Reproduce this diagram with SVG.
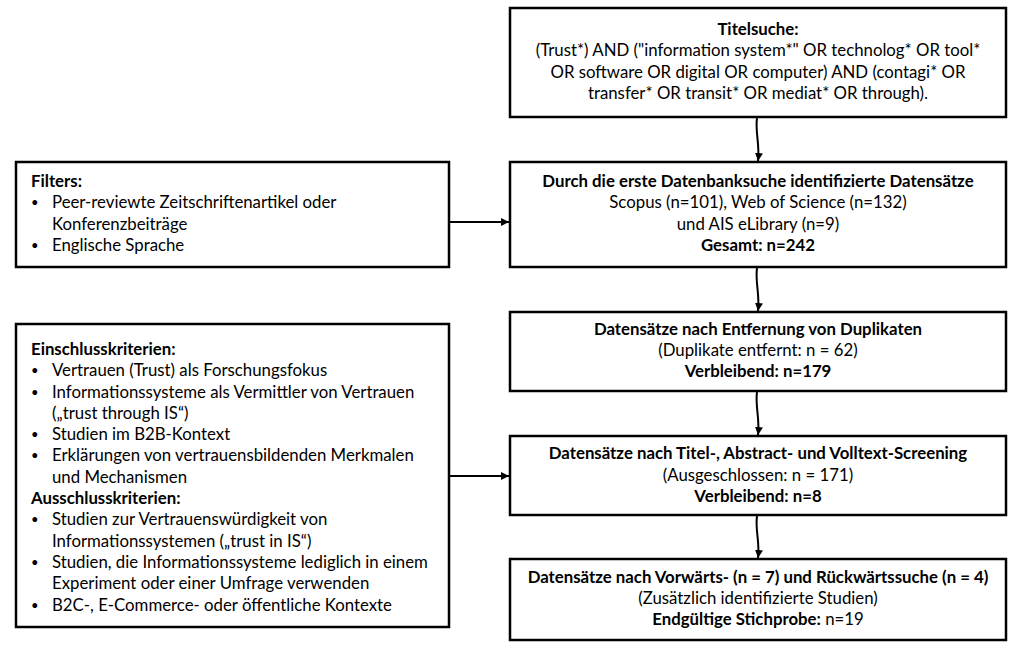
<svg xmlns="http://www.w3.org/2000/svg" width="1024" height="652" viewBox="0 0 1024 652">
<defs>
<marker id="ah" viewBox="0 0 10 10" refX="10" refY="5" markerWidth="4" markerHeight="4" orient="auto" markerUnits="strokeWidth">
<path d="M0,0 L10,5 L0,10 Z" fill="#000"/>
</marker>
<style>
.box{fill:#fff;stroke:#000;stroke-width:2.5}
text{font-family:Lato,"Open Sans","Liberation Sans",sans-serif;font-size:16.8px;fill:#000}
.c{text-anchor:middle}
.b{font-weight:bold}
.dot{font-size:13px}
.con{fill:none;stroke:#000;stroke-width:2}
</style>
</defs>
<rect width="1024" height="652" fill="#fff"/>

<g id="titelsuche">
<rect class="box" x="510" y="8" width="496" height="109"/>
<text class="c b" x="758" y="35">Titelsuche:</text>
<text class="c" x="758" y="56">(Trust*) AND ("information system*" OR technolog* OR tool*</text>
<text class="c" x="758" y="78">OR software OR digital OR computer) AND (contagi* OR</text>
<text class="c" x="758" y="99">transfer* OR transit* OR mediat* OR through).</text>
</g>

<g id="datenbanksuche">
<rect class="box" x="510" y="162" width="496" height="105"/>
<text class="c b" x="758" y="187">Durch die erste Datenbanksuche identifizierte Datensätze</text>
<text class="c" x="758" y="208">Scopus (n=101), Web of Science (n=132)</text>
<text class="c" x="758" y="230">und AIS eLibrary (n=9)</text>
<text class="c b" x="758" y="251">Gesamt: n=242</text>
</g>

<g id="duplikate">
<rect class="box" x="510" y="312" width="496" height="79"/>
<text class="c b" x="758" y="335">Datensätze nach Entfernung von Duplikaten</text>
<text class="c" x="758" y="356">(Duplikate entfernt: n = 62)</text>
<text class="c b" x="758" y="377">Verbleibend: n=179</text>
</g>

<g id="screening">
<rect class="box" x="510" y="436" width="496" height="79"/>
<text class="c b" x="758" y="459">Datensätze nach Titel-, Abstract- und Volltext-Screening</text>
<text class="c" x="758" y="481">(Ausgeschlossen: n = 171)</text>
<text class="c b" x="758" y="502">Verbleibend: n=8</text>
</g>

<g id="stichprobe">
<rect class="box" x="510" y="559" width="496" height="81"/>
<text class="c b" x="758" y="583">Datensätze nach Vorwärts- (n = 7) und Rückwärtssuche (n = 4)</text>
<text class="c" x="758" y="604">(Zusätzlich identifizierte Studien)</text>
<text class="c" x="758" y="625"><tspan class="b">Endgültige Stichprobe:</tspan> n=19</text>
</g>

<g id="filters">
<rect class="box" x="16" y="162" width="433" height="105"/>
<text class="b" x="31" y="187">Filters:</text>
<text class="dot" x="31" y="207">•</text><text x="52" y="208">Peer-reviewte Zeitschriftenartikel oder</text>
<text x="52" y="230">Konferenzbeiträge</text>
<text class="dot" x="31" y="250">•</text><text x="52" y="251">Englische Sprache</text>
</g>

<g id="kriterien">
<rect class="box" x="16" y="324" width="433" height="303"/>
<text class="b" x="31" y="355">Einschlusskriterien:</text>
<text class="dot" x="31" y="375">•</text><text x="52" y="376">Vertrauen (Trust) als Forschungsfokus</text>
<text class="dot" x="31" y="397">•</text><text x="52" y="398">Informationssysteme als Vermittler von Vertrauen</text>
<text x="52" y="419">(„trust through IS“)</text>
<text class="dot" x="31" y="439">•</text><text x="52" y="440">Studien im B2B-Kontext</text>
<text class="dot" x="31" y="460">•</text><text x="52" y="461">Erklärungen von vertrauensbildenden Merkmalen</text>
<text x="52" y="483">und Mechanismen</text>
<text class="b" x="31" y="504">Ausschlusskriterien:</text>
<text class="dot" x="31" y="524">•</text><text x="52" y="525">Studien zur Vertrauenswürdigkeit von</text>
<text x="52" y="547">Informationssystemen („trust in IS“)</text>
<text class="dot" x="31" y="567">•</text><text x="52" y="568">Studien, die Informationssysteme lediglich in einem</text>
<text x="52" y="589">Experiment oder einer Umfrage verwenden</text>
<text class="dot" x="31" y="610">•</text><text x="52" y="611">B2C-, E-Commerce- oder öffentliche Kontexte</text>
</g>

<g id="connectors">
<path class="con" d="M757,118 C755,132 760,145 758,161" marker-end="url(#ah)"/>
<path class="con" d="M757,268 C755,282 760,295 758,311" marker-end="url(#ah)"/>
<path class="con" d="M757,392 C755,406 760,419 758,435" marker-end="url(#ah)"/>
<path class="con" d="M757,516 C755,530 760,542 758,558" marker-end="url(#ah)"/>
<path class="con" d="M450,222 L509,222" marker-end="url(#ah)"/>
<path class="con" d="M450,476 L509,476" marker-end="url(#ah)"/>
</g>
</svg>
